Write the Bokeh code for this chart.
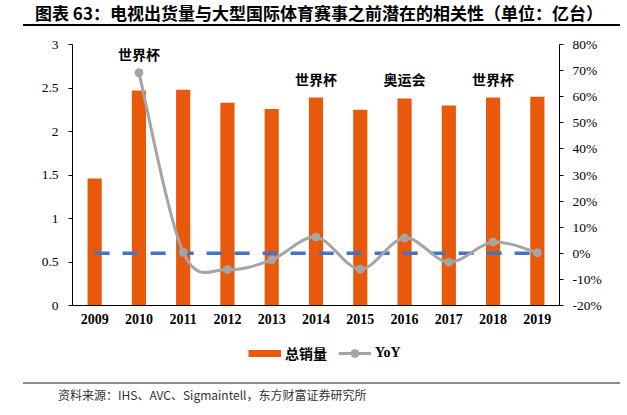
import numpy as np
from bokeh.plotting import figure
from bokeh.layouts import column
from bokeh.models import (Range1d, LinearAxis, FixedTicker, PrintfTickFormatter, Label,
                          Legend, LegendItem, Div)
from bokeh.core.properties import value
from bokeh.embed import file_html
from bokeh.resources import INLINE

# ---------------- data ----------------
years = ["2009", "2010", "2011", "2012", "2013", "2014", "2015", "2016", "2017", "2018", "2019"]
sales = [1.46, 2.47, 2.48, 2.33, 2.26, 2.39, 2.25, 2.38, 2.30, 2.39, 2.40]          # 总销量 (亿台)
yoy = [None, 69.2, 0.4, -6.2, -2.5, 6.2, -6.1, 5.9, -3.4, 4.3, 0.2]                 # YoY (%)
zero_ref = [0, 0, 0, 0, 0, 0, 0, 0, 0, 0, 0]                                         # 0% reference
left_ticks = [0, 0.5, 1, 1.5, 2, 2.5, 3]
right_ticks = [-20, -10, 0, 10, 20, 30, 40, 50, 60, 70, 80]
event_years = ["2010", "2014", "2016", "2018"]
event_names = ["世界杯", "世界杯", "奥运会", "世界杯"]
legend_labels = ["总销量", "YoY"]
title_text = "图表 63：电视出货量与大型国际体育赛事之前潜在的相关性（单位：亿台）"
source_text = "资料来源：IHS、AVC、Sigmaintell，东方财富证券研究所"

# ---------------- style ----------------
ORANGE = "#E8590C"
GREY = "#A5A5A5"
BLUE = "#4472C4"
CJK = "Noto Sans CJK SC"
SERIF = "Liberation Serif"
W = 627
BL, BR = 72, 68          # left / right borders around the plot frame

# ---------------- header ----------------
head = Div(width=W, height=32, margin=0, text=(
    '<div style="position:relative;width:627px;height:32px;">'
    '<div style="position:absolute;left:35px;top:2px;white-space:nowrap;'
    "font-family:'Noto Sans CJK SC';font-weight:bold;font-size:17px;line-height:22px;color:#000;\">"
    + title_text +
    '</div>'
    '<div style="position:absolute;left:23px;top:24px;width:597px;height:1.5px;background:#000;"></div>'
    '</div>'))

# ---------------- main chart ----------------
idx = list(range(len(years)))

p = figure(width=W, height=303, output_backend="svg", toolbar_location=None,
           x_range=Range1d(-0.5, len(years) - 0.5), y_range=Range1d(left_ticks[0], left_ticks[-1]),
           min_border_left=BL, min_border_right=BR, min_border_top=12, min_border_bottom=30)
p.extra_y_ranges = {"yoy": Range1d(right_ticks[0], right_ticks[-1])}
p.outline_line_color = None
p.xgrid.visible = False
p.ygrid.visible = False
p.background_fill_color = "white"
p.border_fill_color = "white"

# x axis
xa = p.xaxis[0]
xa.ticker = FixedTicker(ticks=idx)
xa.major_label_overrides = {i: y for i, y in zip(idx, years)}
xa.major_tick_line_color = None
xa.minor_tick_line_color = None
xa.major_tick_out = 0
xa.major_tick_in = 0
xa.axis_line_color = "black"
xa.axis_line_width = 1
xa.major_label_standoff = 8
xa.major_label_text_font = SERIF
xa.major_label_text_font_style = "bold"
xa.major_label_text_font_size = "14px"
xa.major_label_text_color = "black"

# left axis
ya = p.yaxis[0]
ya.ticker = FixedTicker(ticks=left_ticks)
ya.formatter = PrintfTickFormatter(format="%g")
ya.minor_tick_line_color = None
ya.major_tick_in = 0
ya.major_tick_out = 4
ya.major_label_standoff = 10
ya.axis_line_color = "black"
ya.major_label_text_font = SERIF
ya.major_label_text_font_size = "13.5px"
ya.major_label_text_color = "black"

# right axis
ra = LinearAxis(y_range_name="yoy", ticker=FixedTicker(ticks=right_ticks),
                formatter=PrintfTickFormatter(format="%d%%"))
ra.minor_tick_line_color = None
ra.major_tick_in = 0
ra.major_tick_out = 4
ra.major_label_standoff = 9
ra.axis_line_color = "black"
ra.major_label_text_font = SERIF
ra.major_label_text_font_size = "13.5px"
ra.major_label_text_color = "black"
p.add_layout(ra, "right")

# bars
p.vbar(x=idx, top=sales, width=0.32, fill_color=ORANGE, line_color=None)

# 0% dashed reference
p.line(x=idx, y=zero_ref, y_range_name="yoy", line_color=BLUE, line_width=3.5,
       line_dash="15 13")

# smoothed YoY line (Bezier segments through the data points)
pts = [(i, v) for i, v in zip(idx, yoy) if v is not None]
px = np.array([a for a, _ in pts], dtype=float)
py = np.array([b for _, b in pts], dtype=float)
n = len(px)
x0, y0, x1, y1, cx0, cy0, cx1, cy1 = ([] for _ in range(8))
for k in range(n - 1):
    km1 = max(k - 1, 0)
    kp2 = min(k + 2, n - 1)
    x0.append(px[k]); y0.append(py[k])
    x1.append(px[k + 1]); y1.append(py[k + 1])
    cx0.append(px[k] + (px[k + 1] - px[km1]) / 6.0)
    cy0.append(py[k] + (py[k + 1] - py[km1]) / 6.0)
    cx1.append(px[k + 1] - (px[kp2] - px[k]) / 6.0)
    cy1.append(py[k + 1] - (py[kp2] - py[k]) / 6.0)
p.bezier(x0=x0, y0=y0, x1=x1, y1=y1, cx0=cx0, cy0=cy0, cx1=cx1, cy1=cy1,
         y_range_name="yoy", line_color=GREY, line_width=3)
p.scatter(x=list(px), y=list(py), y_range_name="yoy", size=8,
          fill_color=GREY, line_color=GREY)

# event annotations
lo, hi = right_ticks[0], right_ticks[-1]
for ev, name in zip(event_years, event_names):
    i = years.index(ev)
    yl = sales[i]
    if yoy[i] is not None:
        yl = max(yl, (yoy[i] - lo) / (hi - lo) * (left_ticks[-1] - left_ticks[0]))
    p.add_layout(Label(x=i, y=yl, y_offset=19, text=name, text_align="center",
                       text_baseline="middle", text_font=CJK, text_font_style="bold",
                       text_font_size="14px", text_color="black"))

# ---------------- legend strip ----------------
lg = figure(width=W, height=43, output_backend="svg", toolbar_location=None,
            x_range=Range1d(0, 1), y_range=Range1d(0, 1),
            x_axis_location=None, y_axis_location=None,
            min_border_left=BL, min_border_right=BR, min_border_top=0, min_border_bottom=0)
lg.grid.visible = False
lg.outline_line_color = None
lg.background_fill_color = "white"
lg.border_fill_color = "white"
nan1 = np.array([np.nan])   # key-only renderers: nothing drawn in the frame
key_bar = lg.line(x=nan1, y=nan1, line_color=ORANGE, line_width=7, line_cap="butt")
key_line = lg.line(x=nan1, y=nan1, line_color=GREY, line_width=3)
key_pt = lg.scatter(x=nan1, y=nan1, size=8, fill_color=GREY, line_color=GREY)
leg = Legend(items=[LegendItem(label=value(legend_labels[0]), renderers=[key_bar]),
                    LegendItem(label=value(legend_labels[1]), renderers=[key_line, key_pt])],
             location=(176, 15), orientation="horizontal", glyph_width=33, glyph_height=20,
             label_height=20, label_standoff=4, spacing=11, padding=0, margin=0,
             border_line_color=None, background_fill_alpha=0,
             label_text_font="'Liberation Serif', 'Noto Sans CJK SC'",
             label_text_font_style="bold", label_text_font_size="14px",
             label_text_color="black")
lg.add_layout(leg)

# ---------------- footer ----------------
foot = Div(width=W, height=37, margin=0, text=(
    '<div style="position:relative;width:627px;height:37px;">'
    '<div style="position:absolute;left:23px;top:4px;width:597px;height:2px;background:#8C8C8C;"></div>'
    '<div style="position:absolute;left:58px;top:9px;white-space:nowrap;'
    "font-family:'Noto Sans CJK SC';font-size:12px;line-height:16px;color:#333;\">"
    + source_text +
    '</div></div>'))

layout = column(head, p, lg, foot, spacing=0)
open("out.html", "w").write(file_html(layout, INLINE))
